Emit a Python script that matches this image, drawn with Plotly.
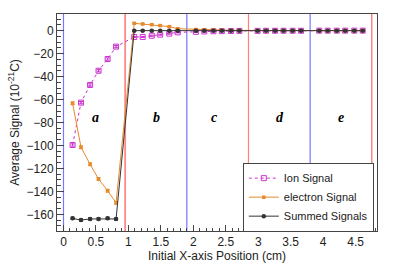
import plotly.graph_objects as go

x_pos = [0.14, 0.27, 0.41, 0.54, 0.68, 0.81,
         1.09, 1.22, 1.36, 1.49, 1.63, 1.76,
         2.04, 2.17, 2.31, 2.44, 2.58, 2.71,
         2.99, 3.12, 3.26, 3.39, 3.53, 3.66,
         3.94, 4.07, 4.21, 4.34, 4.48, 4.61]

ion_signal = [-99.6, -62.7, -47.3, -34.9, -24.7, -13.9,
              -5.5, -5.5, -4.4, -3.5, -2.6, -1.5,
              -1.0, -0.7, -0.5, -0.4, -0.3, -0.2,
              -0.2, -0.1, -0.1, -0.1, -0.1, -0.1,
              0.0, 0.0, 0.0, 0.0, 0.0, 0.0]
electron_signal = [-63.3, -101.6, -116.4, -129.2, -139.4, -149.9,
                   6.4, 5.8, 5.2, 4.4, 3.5, 1.7,
                   1.0, 0.7, 0.5, 0.4, 0.3, 0.2,
                   0.2, 0.1, 0.1, 0.1, 0.1, 0.1,
                   0.0, 0.0, 0.0, 0.0, 0.0, 0.0]
summed_signal = [-163.5, -165.0, -164.0, -164.0, -163.5, -164.0,
                 0.0, 0.0, 0.0, 0.0, 0.0, 0.0,
                 0.0, 0.0, 0.0, 0.0, 0.0, 0.0,
                 0.0, 0.0, 0.0, 0.0, 0.0, 0.0,
                 0.0, 0.0, 0.0, 0.0, 0.0, 0.0]
ion_err = [1.0] * 6 + [0.5] * 24
electron_err = [1.2] * 6 + [0.6] * 24
summed_err = [1.0] * 6 + [0.4] * 24

region_bounds = [0.0, 0.95, 1.9, 2.85, 3.8, 4.75]
region_colors = ["#7777ff", "#ff8888", "#7777ff", "#ff8080", "#7777ff", "#ff6666"]
region_widths = [1.2, 1.8, 1.2, 1.2, 1.2, 1.2]
region_labels = ["a", "b", "c", "d", "e"]
label_x = [0.49, 1.44, 2.32, 3.34, 4.28]
label_y = -76

FONT = "Liberation Sans, Arial, sans-serif"

fig = go.Figure()
fig.add_trace(go.Scatter(
    x=x_pos, y=ion_signal, name="Ion Signal", mode="lines+markers",
    line=dict(color="#cc33cc", width=1, dash="dot"),
    marker=dict(symbol="square-open", size=5, color="#cc33cc", line=dict(width=1)),
    error_y=dict(type="data", array=ion_err, color="#cc33cc", thickness=1, width=2)))
fig.add_trace(go.Scatter(
    x=x_pos, y=electron_signal, name="electron Signal", mode="lines+markers",
    line=dict(color="#e8892a", width=1),
    marker=dict(symbol="square", size=3.5, color="#e8892a"),
    error_y=dict(type="data", array=electron_err, color="#e8892a", thickness=1, width=2)))
fig.add_trace(go.Scatter(
    x=x_pos, y=summed_signal, name="Summed Signals", mode="lines+markers",
    line=dict(color="#333333", width=1),
    marker=dict(symbol="circle", size=4.5, color="#333333"),
    error_y=dict(type="data", array=summed_err, color="#333333", thickness=1, width=2)))

for xb, col, w in zip(region_bounds, region_colors, region_widths):
    fig.add_shape(type="line", xref="x", yref="paper", x0=xb, x1=xb, y0=0, y1=1,
                  line=dict(color=col, width=w), layer="below")

for lab, lx in zip(region_labels, label_x):
    fig.add_annotation(x=lx, y=label_y, text="<b><i>%s</i></b>" % lab, showarrow=False,
                       font=dict(family="Liberation Serif, Times New Roman, serif", size=14, color="black"))

fig.update_layout(
    width=399, height=272,
    margin=dict(l=57, r=22, t=14, b=41, autoexpand=False),
    paper_bgcolor="white", plot_bgcolor="white",
    font=dict(family=FONT, size=11, color="#222222"),
    showlegend=True,
    legend=dict(x=0.99, y=0.315, xanchor="right", yanchor="top",
                bgcolor="white", bordercolor="#444444", borderwidth=1,
                font=dict(size=11), tracegroupgap=0, itemwidth=30),
)
fig.update_xaxes(
    range=[-0.1, 4.83], showgrid=False, zeroline=False, automargin=False,
    showline=True, linecolor="#444444", linewidth=1, mirror=True,
    tickmode="linear", tick0=0, dtick=0.5, ticks="inside", ticklen=6, tickcolor="#444444",
    minor=dict(dtick=0.1, ticks="inside", ticklen=3, tickcolor="#444444"),
    tickfont=dict(size=12),
    title=dict(text="Initial X-axis Position (cm)", font=dict(size=12), standoff=2),
)
fig.update_yaxes(
    range=[-174.5, 14.5], showgrid=False, zeroline=False, automargin=False,
    showline=True, linecolor="#444444", linewidth=1, mirror=True,
    tickmode="linear", tick0=0, dtick=20, ticks="inside", ticklen=7, tickcolor="#444444",
    minor=dict(dtick=5, ticks="inside", ticklen=3.5, tickcolor="#444444"),
    tickfont=dict(size=12),
    title=dict(text="Average Signal (10<sup>-21</sup>C)", font=dict(size=12), standoff=4),
)

fig.write_html("out.html", post_script="document.body.style.margin='0';",
               config={"displayModeBar": False})
